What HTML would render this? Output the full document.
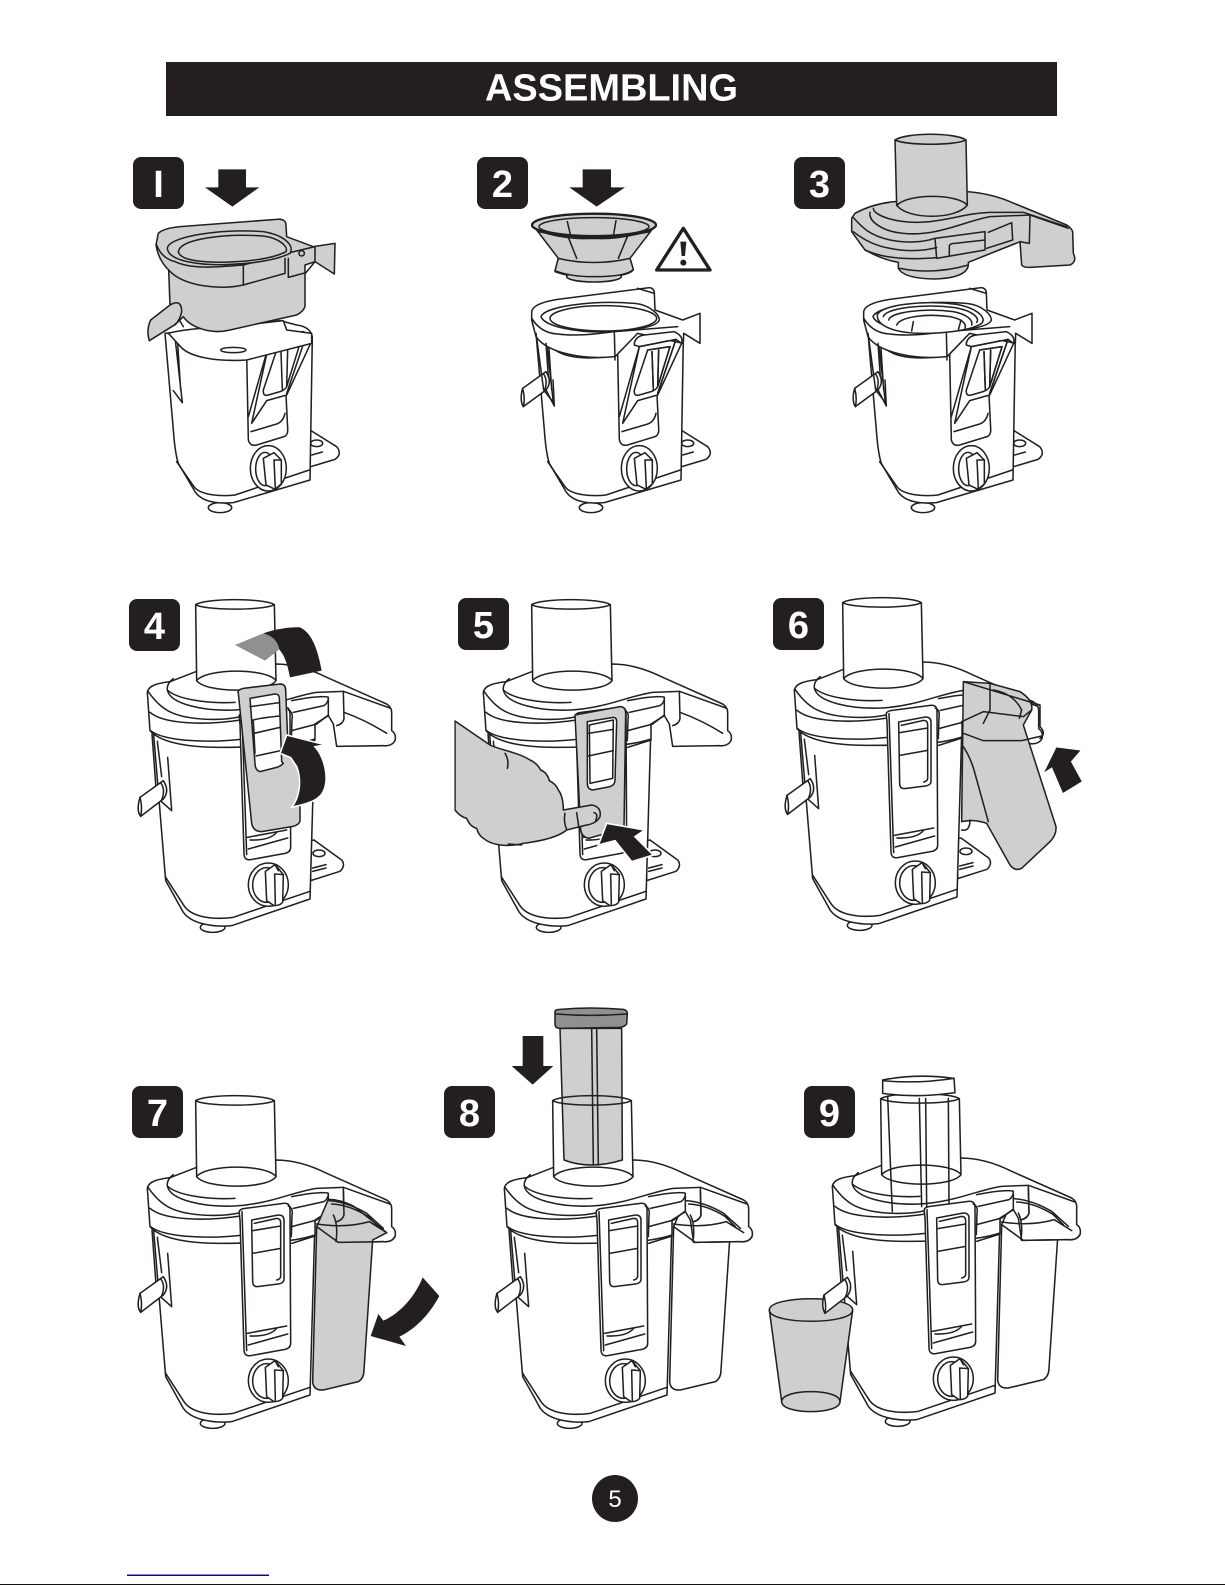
<!DOCTYPE html>
<html><head><meta charset="utf-8"><style>
html,body{margin:0;padding:0;background:#fff}
svg{display:block}
.l{stroke:#231f20;stroke-width:4.6;stroke-linejoin:round;stroke-linecap:round;fill:none}
.t{font-family:"Liberation Sans",sans-serif;font-weight:bold;fill:#fff}
</style></head><body>
<svg width="1225" height="1585" viewBox="0 0 1225 1585" xmlns="http://www.w3.org/2000/svg">
<defs>
<g id="cyl"><path d="M227,62 C260,42 430,42 463,62 L468,290 C440,328 260,328 230,290 Z"/></g>
<g id="cylo"><path fill="none" d="M230,290 L227,62 C260,42 430,42 463,62 L468,290 M227,62 C260,80 430,80 463,62 M230,290 C260,328 440,328 468,290 C440,252 260,252 230,290"/></g>
<g id="plate" class="l"><path fill="#fff" d="M570,770 L582,768 L665,828 Q678,845 660,862 L572,890 Z"/><ellipse cx="597" cy="808" rx="18" ry="10"/><path d="M578,852 L618,842 M578,862 L618,852"/></g>
<g id="spout" class="l"><path fill="#fff" d="M60,640 L130,590 Q150,620 130,645 L62,697 Q48,680 60,640 Z"/><path d="M60,640 Q68,670 62,697"/><path d="M122,596 Q138,618 124,650"/></g>
<g id="sp" class="l"><path d="M672,385 Q740,410 800,448"/></g>
<g id="asm" class="l">
 <ellipse cx="278" cy="1030" rx="37" ry="15" fill="#fff"/>
 <path fill="#fff" d="M100,440 L137,890 L190,985 C215,1020 280,1030 335,1025 L570,945 L585,420 Z"/>
 <path d="M137,880 L192,965 C215,1000 280,1008 340,1000 L570,922"/>
 <path d="M96,450 L110,640 L155,680 L143,520 M112,472 L125,578"/>
 <path fill="#fff" d="M150,293 C110,298 85,305 82,325 L90,440 C125,480 220,490 300,490 C400,490 510,490 585,465 L585,420 L625,395 L640,420 L650,487 L790,485 Q815,488 825,470 Q830,450 815,440 L815,385 Q815,370 800,360 L620,280 C570,255 520,240 468,240 L230,262 Z"/>
 <path d="M84,322 C100,345 125,375 160,388 C210,408 300,412 362,398"/>
 <path d="M90,385 C130,420 250,425 362,408"/>
 <path d="M92,440 C130,470 250,478 362,466"/>
 <path d="M515,490 L585,468 M515,440 L590,420 L625,393 M520,385 L612,365 Q626,355 625,340 Q615,335 560,342 L515,350"/>
 <path d="M160,284 C145,295 140,305 142,318 C150,360 250,382 345,378 C450,372 520,335 590,325 L670,322 L810,372"/>
 <path d="M142,318 C170,345 260,360 345,355"/>
 <path d="M670,322 L672,405 Q668,420 650,425"/>
 <path d="M625,345 L625,395"/>
 <ellipse cx="445" cy="902" rx="60" ry="65" fill="#fff"/>
 <ellipse cx="440" cy="903" rx="42" ry="52"/>
 <path fill="#fff" d="M436,862 L465,842 L490,872 L488,955 Q480,965 462,965 L440,950 Z"/>
 <path d="M464,870 L490,872 M464,870 L466,962 M465,842 L475,860"/>
 <path fill="#fff" d="M358,400 Q355,390 370,386 L490,370 Q510,368 510,388 L512,790 Q512,804 495,808 L392,827 Q372,830 372,808 L360,420 Z"/>
 <path d="M366,395 L380,812 M505,378 Q520,385 516,405 L514,470"/>
 <path fill="#fff" d="M395,420 L475,405 Q492,405 492,420 L492,600 Q490,610 475,612 L412,620 Q398,620 398,605 Z"/>
 <path d="M403,430 L470,415 Q482,415 482,428 L482,590 Q480,598 470,600 M398,452 L482,438 M398,520 L482,505"/>
 <path d="M382,760 L500,738 M385,795 L503,762 M390,768 Q450,770 470,745"/>
</g>
<g id="coll">
 <path d="M590,440 L578,905 Q580,932 610,930 L715,905 Q732,895 732,870 L758,480 L800,458 L760,425 L700,378 Q660,358 625,358 Z"/>
</g>
<g id="collines" class="l">
 <path fill="none" d="M625,362 Q680,365 740,400 L790,445 M635,372 Q690,375 745,410 L775,440"/>
 <path fill="none" d="M590,432 Q680,445 748,425 L800,458 M590,440 L655,487 L790,485 Q815,488 825,470"/>
 <path fill="none" d="M640,405 Q655,435 648,485 M670,330 L672,405 Q668,420 650,425"/>
</g>
<g id="base" class="l">
 <ellipse cx="300" cy="1133" rx="35" ry="15" fill="#fff"/>
 <path fill="#fff" d="M570,900 L650,950 Q668,972 645,988 L565,1012 Z"/>
 <ellipse cx="590" cy="940" rx="18" ry="10"/><path d="M575,975 L607,966"/>
 <path fill="#fff" d="M135,610 L160,900 Q165,970 175,1000 L225,1085 C245,1115 290,1122 340,1118 L570,1050 L577,620 Q570,590 530,585 L480,572 Z"/>
 <path d="M170,995 L222,1070 C240,1095 300,1100 345,1095 L568,1020"/>
 <path d="M165,622 L187,818 L160,782 M173,640 L182,780"/>
 <ellipse cx="445" cy="1015" rx="54" ry="68" fill="#fff"/><ellipse cx="435" cy="1017" rx="28" ry="50"/>
 <path fill="#fff" d="M430,985 L462,968 L484,990 L484,1062 L465,1078 L438,1065 Z"/><path d="M462,990 L484,990 M462,990 L466,1076"/>
 <path d="M180,648 C210,685 300,695 380,670 L385,930 Q390,950 410,945 L492,920 Q505,915 503,895 L497,775"/>
 <path d="M393,905 L470,882 Q490,875 495,850 M385,860 L445,650"/>
 <path fill="#fff" d="M430,640 Q435,618 460,615 L550,605 Q578,618 572,640 L500,795 L440,812 L395,880 L445,650 L430,645 Z"/>
 <path d="M445,650 L555,628 L500,790 M430,780 L470,660 L537,650 L500,770 Q495,780 480,785 L445,795 Q428,800 430,780 Z"/>
 <path d="M483,665 L487,780 M503,660 L500,770"/>
</g>
<g id="rim" class="l">
 <path fill="#fff" d="M122,545 Q125,520 200,508 L475,473 Q490,475 490,490 L492,540 L575,570 L627,550 L627,640 L578,610 L577,640 L440,610 L372,680 C280,690 170,670 135,620 L122,570 Z"/>
 <path d="M122,565 Q150,610 200,612 C260,620 330,610 370,605 L560,590 M370,605 L372,690 M490,490 L440,475"/>
 <path d="M150,560 C160,530 300,510 430,520 C480,525 505,555 505,570 C500,590 440,600 360,605 C260,610 160,590 150,560 Z"/>
 <path d="M135,610 L158,780 M165,640 L172,740"/>
 <path d="M430,640 Q435,618 460,615 L550,605 Q578,618 572,640 L555,628" fill="#fff"/>
 <path d="M445,650 L555,628 L500,790 M470,660 L537,650 L500,770 M483,665 L487,780 M503,660 L500,770"/>
</g>
<g id="spoutB" class="l"><path fill="#fff" d="M95,775 L165,725 Q185,755 165,780 L97,830 Q85,810 95,775 Z"/><path d="M157,731 Q173,753 159,785 M165,780 L190,828 L186,750 M95,775 Q103,805 97,830"/></g>
</defs>
<rect width="1225" height="1585" fill="#fff"/>
<rect x="166" y="62" width="891" height="54" fill="#231f20"/>
<text class="t" x="485" y="100.7" font-size="38" textLength="253" lengthAdjust="spacingAndGlyphs">ASSEMBLING</text>
<g fill="#231f20">
<rect x="133" y="157" width="51" height="52" rx="8"/><rect x="477" y="157" width="51" height="52" rx="8"/><rect x="794" y="157" width="51" height="52" rx="8"/>
<rect x="129" y="599" width="51" height="52" rx="8"/><rect x="458" y="598" width="51" height="52" rx="8"/><rect x="773" y="598" width="51" height="52" rx="8"/>
<rect x="132" y="1086" width="51" height="52" rx="8"/><rect x="444" y="1086" width="51" height="52" rx="8"/><rect x="804" y="1086" width="51" height="52" rx="8"/>
</g>
<g class="t" font-size="38" text-anchor="middle">
<text x="158.5" y="197">I</text><text x="502.5" y="197">2</text><text x="819.5" y="197">3</text>
<text x="154.5" y="639">4</text><text x="483.5" y="638">5</text><text x="798.5" y="638">6</text>
<text x="157.5" y="1126">7</text><text x="469.5" y="1126">8</text><text x="829.5" y="1126">9</text>
</g>

<!-- PANEL 1 -->
<g transform="translate(120,130) scale(.33333)">
 <path fill="#231f20" d="M295,118 L378,118 L378,172 L418,172 L337,230 L255,172 L295,172 Z"/>
 <use href="#base"/>
 <g class="l">
  <path fill="#fff" d="M145,610 Q200,595 330,590 L490,572 L500,600 L575,610 L575,640 L380,690 C300,695 210,685 180,648 Z"/>
  <ellipse cx="340" cy="660" rx="38" ry="8"/>
  <path fill="#cdcfd1" d="M115,310 Q130,295 180,290 L470,268 Q497,265 498,285 L500,320 L580,350 L645,340 L643,432 L585,395 L555,405 L555,530 Q550,545 530,555 L330,600 C270,615 210,590 190,560 C175,575 165,585 155,590 L88,632 Q78,600 92,570 L150,525 L146,420 Q115,390 108,345 Z"/>
  <path d="M110,345 Q125,385 165,395 C220,420 300,410 370,405 L500,370 L585,350"/>
  <path fill="#cdcfd1" d="M142,355 C145,320 300,295 430,305 C490,315 525,345 510,370 C470,390 400,400 350,402 C250,410 145,395 142,355 Z"/>
  <path d="M175,365 C180,325 320,310 430,318 C480,325 505,350 498,365 C460,385 400,392 350,395 C270,400 180,395 175,365 Z"/>
  <path d="M146,420 C190,470 300,480 370,465 L370,402 M370,465 L495,430 L495,385 M505,385 L505,442 L558,428 L585,395 L585,350"/>
  <path d="M150,525 Q185,505 185,545 Q180,570 165,585 M178,570 L190,590"/>
  <circle cx="545" cy="370" r="8"/>
 </g>
</g>

<!-- PANEL 2 -->
<g transform="translate(491,130) scale(.33333)">
 <use href="#base"/>
 <use href="#spoutB"/>
 <use href="#rim"/>
 <g class="l"><ellipse cx="337" cy="565" rx="160" ry="38" fill="#fff"/></g>
</g>
<g transform="translate(470,130) scale(.33333)">
 <path fill="#231f20" d="M338,118 L423,118 L423,172 L465,172 L380,230 L298,172 L338,172 Z"/>
 <g class="l">
  <path fill="#cdcfd1" d="M200,300 L265,385 L255,425 Q300,442 370,442 Q470,442 490,420 L480,385 L545,300 Q450,330 372,325 Q280,330 200,300 Z"/>
  <ellipse cx="372" cy="440" rx="82" ry="16" fill="#cdcfd1"/>
  <path fill="#cdcfd1" d="M255,422 Q300,440 370,440 Q470,440 490,418 L480,385 Q370,410 265,385 Z"/>
  <ellipse cx="372" cy="285" rx="186" ry="34" fill="#cdcfd1" stroke-width="7"/>
  <ellipse cx="372" cy="290" rx="165" ry="27" fill="#cdcfd1"/>
  <path d="M292,275 L302,318 M438,272 L430,318 M295,322 L320,385 M472,320 L445,385 M205,305 Q372,340 540,305"/>
 </g>
 <path d="M640,295 L720,420 L560,420 Z" fill="#fff" stroke="#231f20" stroke-width="10" stroke-linejoin="round"/>
 <path d="M631,335 L649,335 L645,378 L635,378 Z" fill="#231f20"/><circle cx="640" cy="398" r="9" fill="#231f20"/>
</g>

<!-- PANEL 3 -->
<g transform="translate(823,130) scale(.33333)">
 <use href="#base"/>
 <use href="#spoutB"/>
 <use href="#rim"/>
</g>
<g transform="translate(790,125) scale(.33333)" class="l">
 <path d="M262,570 C270,540 400,525 500,538 C565,550 590,580 575,595 C545,615 470,625 400,625 C320,625 260,605 262,570 Z" fill="#fff"/>
 <path d="M280,575 C285,550 400,535 495,548 C550,558 570,580 560,592 M296,585 C300,562 400,548 490,560 C530,568 550,585 545,600 M320,600 C330,575 410,565 480,575 C515,582 530,595 525,610"/>
 <path d="M370,590 L365,618 M513,585 L505,615"/>
 <path fill="#cdcfd1" d="M315,230 Q250,235 195,265 L185,280 L185,320 L225,375 Q280,405 325,412 L325,430 Q340,460 430,462 Q530,460 535,420 L535,412 L590,390 L690,350 L695,420 Q700,428 720,427 L840,420 Q862,410 850,385 L848,320 Q845,310 830,300 L660,230 Q600,205 530,200 Z"/>
 <path d="M190,278 C215,305 235,330 300,345 C350,355 400,352 435,340 M190,320 Q240,360 300,370 C350,380 400,378 440,368 M225,375 Q300,410 440,398"/>
 <path d="M240,262 C235,290 280,320 340,325 C440,335 520,290 600,275 L720,270 L835,310 M250,250 C250,270 320,300 420,290 C500,280 530,265 600,262 L700,262 L830,305"/>
 <path d="M435,340 L440,400 L585,375 L585,320 Z M595,322 L665,293 L668,345 L590,370 M478,392 L478,362 Q480,355 495,355 L585,345 M720,270 L718,355 L690,350"/>
 <path fill="#cdcfd1" d="M315,45 C350,22 495,22 528,45 L532,240 C500,285 350,285 320,240 Z"/>
 <path d="M315,45 C350,62 495,62 528,45 M320,242 C350,205 500,205 532,240"/>
 <path fill="none" d="M330,430 Q430,450 535,420"/>
</g>

<!-- PANEL 4 -->
<g transform="translate(120,584) scale(.33333)">
 <use href="#plate"/>
 <use href="#asm"/>
 <use href="#sp"/>
 <use href="#spout"/>
 <use href="#cyl" fill="#fff"/><use href="#cylo" class="l"/>
</g>
<g transform="translate(120,590) scale(.33333)">
 <g class="l">
  <path fill="#cdcfd1" d="M355,310 Q350,300 370,295 L480,282 Q497,282 497,300 L505,495 L530,510 Q540,530 540,690 Q540,705 515,710 L425,725 Q400,725 395,700 Z"/>
  <path fill="#fff" d="M390,325 L465,312 Q478,312 478,325 L485,515 L490,520 Q480,530 470,532 L420,545 Q405,540 405,520 Z"/>
  <path d="M390,350 L478,338 M395,392 Q410,385 478,378 M400,395 L405,490 M402,430 L480,412 M408,498 L482,482"/>
 </g>
 <path fill="#231f20" d="M430,130 C470,115 520,110 540,112 C580,130 595,190 605,242 L510,262 C500,210 490,190 470,170 C455,150 440,135 430,130 Z"/>
 <path fill="#8f9092" d="M345,165 L430,130 Q470,140 478,178 L435,212 Z"/>
 <path fill="#231f20" stroke="#fff" stroke-width="5" d="M480,490 L500,435 L618,465 L585,470 C612,500 628,560 612,600 C600,630 570,640 515,652 C540,620 545,570 530,530 L512,503 Z"/>
</g>

<!-- PANEL 5 -->
<g transform="translate(456,584) scale(.33333)">
 <use href="#plate"/>
 <use href="#asm"/>
 <use href="#sp"/>
 <use href="#cyl" fill="#fff"/><use href="#cylo" class="l"/>
</g>
<g transform="translate(450,590) scale(.33333)">
 <g class="l">
  <path fill="#cdcfd1" d="M375,375 L510,350 Q527,350 527,370 L522,715 L415,745 Q395,740 392,720 Z"/>
  <path fill="#fff" d="M412,395 L490,382 Q500,382 500,395 L495,570 Q495,585 480,590 L428,600 Q412,598 412,580 Z"/>
  <path d="M418,405 L490,390 L488,565 L420,580 Z M415,430 L490,418 M415,498 L490,482"/>
  <path fill="#cdcfd1" d="M15,393 L120,465 C150,480 200,485 240,510 Q262,520 272,540 Q292,548 298,572 Q318,582 325,600 Q340,620 340,660 L425,645 Q455,650 450,680 Q440,700 410,705 L350,720 C320,745 260,755 220,760 C180,770 130,770 100,745 Q85,735 80,715 Q60,710 50,685 Q30,680 15,660 L15,393" stroke-linejoin="round"/>
  <path d="M165,490 Q178,510 172,535 M345,670 Q340,695 350,718 M380,668 L386,708 M432,668 Q446,672 437,692 M175,762 L215,765"/>
 </g>
 <rect x="0" y="380" width="13" height="300" fill="#fff"/>
 <path fill="#231f20" stroke="#fff" stroke-width="5" d="M445,765 L470,700 L585,720 L555,740 L610,795 L545,815 L495,752 Z"/>
</g>

<!-- PANEL 6 -->
<g transform="translate(767,582) scale(.33333)">
 <use href="#plate"/>
 <use href="#asm"/>
 <use href="#spout"/>
 <use href="#cyl" fill="#fff"/><use href="#cylo" class="l"/>
</g>
<g transform="translate(770,590) scale(.33333)">
 <g class="l">
  <path fill="#cdcfd1" d="M580,275 L660,280 L750,305 Q790,330 785,360 L760,405 L858,710 Q860,735 840,755 L755,835 Q735,845 720,825 L650,700 C620,690 600,690 575,695 Z"/>
  <path d="M580,470 Q600,500 612,540 L655,695 M600,690 Q600,725 575,720 M580,430 L640,452 L755,452 L815,438 M575,395 L640,365 L760,380 L785,360 M660,280 L660,360 L640,400 M670,300 Q730,310 755,360 L748,385 M580,275 L810,345 L810,410 Q830,430 810,445"/>
 </g>
 <path fill="#231f20" stroke="#fff" stroke-width="4" d="M818,552 L858,470 L935,480 L905,515 L938,575 L878,612 L845,535 Z"/>
</g>

<!-- PANEL 7 -->
<g transform="translate(120,1080) scale(.33333)">
 <use href="#asm"/>
 <use href="#spout"/>
 <use href="#cyl" fill="#fff"/><use href="#cylo" class="l"/>
 <use href="#coll" class="l" style="fill:#cdcfd1"/>
 <use href="#collines"/>
 <path fill="#231f20" d="M908,592 L958,648 C925,710 880,750 838,770 L858,798 L752,768 L775,702 L790,722 C840,700 885,650 908,592 Z"/>
</g>

<!-- PANEL 8 -->
<g transform="translate(477,1080) scale(.33333)">
 <use href="#coll" class="l" style="fill:#fff"/>
 <use href="#asm"/>
 <use href="#spout"/>
 <use href="#collines"/>
 <use href="#cyl" fill="#fff"/>
</g>
<g transform="translate(440,1000) scale(.33333)">
 <path fill="#231f20" d="M248,108 L310,108 L310,198 L340,198 L278,254 L215,198 L248,198 Z"/>
 <g class="l">
  <path fill="#cdcfd1" d="M360,85 L372,480 Q450,510 547,480 L545,85 Z"/>
  <path fill="#8f9092" d="M345,35 Q345,28 360,28 Q450,20 550,28 Q562,30 562,40 L560,72 Q555,80 540,82 L360,85 Q345,85 345,72 Z"/>
  <path d="M347,42 Q450,50 560,42 M455,85 L460,495 M470,85 L475,495"/>
 </g>
</g>
<g transform="translate(477,1080) scale(.33333)"><use href="#cylo" class="l"/></g>

<!-- PANEL 9 -->
<g transform="translate(805,1078) scale(.33333)">
 <use href="#coll" class="l" style="fill:#fff"/>
 <use href="#asm"/>
 <use href="#collines"/>
 <use href="#cyl" fill="#fff"/><use href="#cylo" class="l"/>
</g>
<g transform="translate(760,1060) scale(.33333)">
 <g class="l">
  <path fill="#fff" d="M368,60 Q470,40 582,55 L585,98 Q470,115 368,100 Z"/>
  <path d="M368,62 Q470,72 582,55 M383,110 L397,455 M565,115 L567,430 M478,115 L485,440 M497,115 L500,440"/>
  <path fill="#cdcfd1" d="M28,750 C28,705 278,705 278,750 L240,1025 C240,1065 65,1065 65,1025 Z"/>
  <path d="M28,750 C28,795 278,795 278,750 M65,1025 C65,985 240,985 240,1025"/>
  <path fill="#fff" d="M192,705 L262,652 Q282,680 262,708 L195,760 Q183,740 192,705 Z"/>
  <path d="M192,705 Q200,735 195,760 M254,658 Q270,680 256,712"/>
 </g>
</g>

<ellipse cx="615" cy="1498.5" rx="23" ry="23.5" fill="#231f20"/>
<text x="615" y="1507" font-family="Liberation Sans, sans-serif" font-size="24" fill="#fff" text-anchor="middle">5</text>
<rect x="127" y="1574.5" width="142" height="1.5" fill="#0000cc"/>
<rect x="0" y="1584" width="1225" height="1" fill="#111"/>
</svg>
</body></html>
